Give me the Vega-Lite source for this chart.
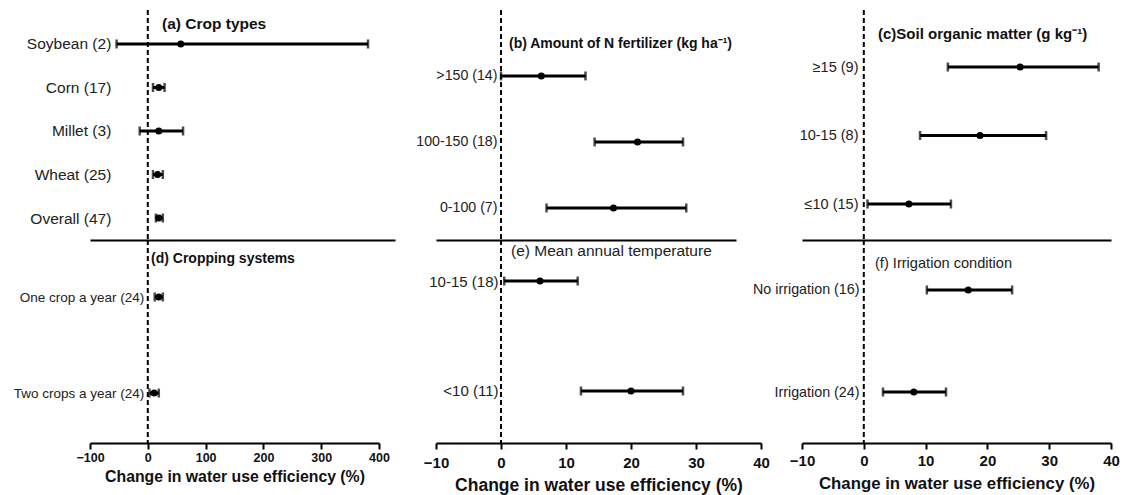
{
  "$schema": "https://vega.github.io/schema/vega-lite/v6.json",
  "background": "white",
  "padding": {"left": 13, "top": 9, "right": 5, "bottom": 2},
  "config": {"font": "Liberation Sans", "view": {"stroke": null}, "axis": {"grid": false}},
  "datasets": {
    "a": [
      {"label": "Soybean (2)", "mean": 57, "lo": -54, "hi": 381},
      {"label": "Corn (17)", "mean": 19, "lo": 9, "hi": 29},
      {"label": "Millet (3)", "mean": 19, "lo": -14, "hi": 61},
      {"label": "Wheat (25)", "mean": 17, "lo": 9, "hi": 26},
      {"label": "Overall (47)", "mean": 19, "lo": 14, "hi": 26}
    ],
    "d": [
      {"label": "One crop a year (24)", "mean": 19, "lo": 12, "hi": 26},
      {"label": "Two crops a year (24)", "mean": 11, "lo": 3, "hi": 19}
    ],
    "b": [
      {"label": ">150 (14)", "mean": 6.2, "lo": 0, "hi": 13},
      {"label": "100-150 (18)", "mean": 21, "lo": 14.4, "hi": 28},
      {"label": "0-100 (7)", "mean": 17.3, "lo": 7, "hi": 28.5}
    ],
    "e": [
      {"label": "10-15 (18)", "mean": 6, "lo": 0.5, "hi": 11.8},
      {"label": "<10 (11)", "mean": 20, "lo": 12.3, "hi": 28}
    ],
    "c": [
      {"label": "≥15 (9)", "mean": 25.3, "lo": 13.6, "hi": 38},
      {"label": "10-15 (8)", "mean": 18.8, "lo": 9.1, "hi": 29.5},
      {"label": "≤10 (15)", "mean": 7.3, "lo": 0.6, "hi": 14.1}
    ],
    "f": [
      {"label": "No irrigation (16)", "mean": 16.9, "lo": 10.2, "hi": 24},
      {"label": "Irrigation (24)", "mean": 8.1, "lo": 3.1, "hi": 13.3}
    ]
  },
  "bounds": "flush",
  "align": "each",
  "columns": 3,
  "spacing": {"row": 0, "column": 41},
  "concat": [
    {
      "width": 305, "height": 230,
      "title": {"text": "(a) Crop types", "anchor": "start", "frame": "group", "offset": -23, "dx": 72, "fontSize": 15.5, "fontWeight": "bold", "color": "#111"},
      "data": {"name": "a"},
      "layer": [
        {"data": {"values": [{}]}, "mark": {"type": "rule", "strokeDash": [5, 3], "strokeWidth": 2, "color": "black"}, "encoding": {"x": {"datum": 0, "type": "quantitative"}}},
        {"mark": {"type": "rule", "strokeWidth": 3, "color": "black"},
         "encoding": {
           "y": {"field": "label", "type": "nominal", "sort": null, "scale": {"type": "point", "padding": 0.643, "align": 0.607},
                 "axis": {"offset": -57.8, "domain": false, "ticks": false, "labelPadding": 37, "labelFontSize": 15.5, "labelColor": "#222", "labelLimit": 300, "title": null}},
           "x": {"field": "lo", "type": "quantitative", "scale": {"domain": [-100, 427.7], "nice": false, "zero": false},
                 "axis": {"domain": true, "domainColor": "black", "domainWidth": 2, "ticks": false, "labels": false, "title": null}},
           "x2": {"field": "hi"}}},
        {"mark": {"type": "tick", "thickness": 2.5, "size": 9, "color": "black"}, "encoding": {"y": {"field": "label", "type": "nominal", "sort": null}, "x": {"field": "lo", "type": "quantitative"}}},
        {"mark": {"type": "tick", "thickness": 2.5, "size": 9, "color": "black"}, "encoding": {"y": {"field": "label", "type": "nominal", "sort": null}, "x": {"field": "hi", "type": "quantitative"}}},
        {"mark": {"type": "circle", "size": 50, "opacity": 1, "color": "black"}, "encoding": {"y": {"field": "label", "type": "nominal", "sort": null}, "x": {"field": "mean", "type": "quantitative"}}}
      ]
    },
    {
      "width": 300, "height": 230,
      "title": {"text": "(b) Amount of N fertilizer (kg ha⁻¹)", "anchor": "start", "frame": "group", "offset": -42, "dx": 73, "fontSize": 14, "fontWeight": "bold", "color": "#111"},
      "data": {"name": "b"},
      "layer": [
        {"data": {"values": [{}]}, "mark": {"type": "rule", "strokeDash": [5, 3], "strokeWidth": 2, "color": "black"}, "encoding": {"x": {"datum": 0, "type": "quantitative"}}},
        {"mark": {"type": "rule", "strokeWidth": 3, "color": "black"},
         "encoding": {
           "y": {"field": "label", "type": "nominal", "sort": null, "scale": {"type": "point", "padding": 0.742, "align": 0.673},
                 "axis": {"offset": -65, "domain": false, "ticks": false, "labelPadding": 4, "labelFontSize": 14.2, "labelColor": "#222", "labelLimit": 300, "title": null}},
           "x": {"field": "lo", "type": "quantitative", "scale": {"domain": [-10, 36.15], "nice": false, "zero": false},
                 "axis": {"domain": true, "domainColor": "black", "domainWidth": 2, "ticks": false, "labels": false, "title": null}},
           "x2": {"field": "hi"}}},
        {"mark": {"type": "tick", "thickness": 2.5, "size": 9, "color": "black"}, "encoding": {"y": {"field": "label", "type": "nominal", "sort": null}, "x": {"field": "lo", "type": "quantitative"}}},
        {"mark": {"type": "tick", "thickness": 2.5, "size": 9, "color": "black"}, "encoding": {"y": {"field": "label", "type": "nominal", "sort": null}, "x": {"field": "hi", "type": "quantitative"}}},
        {"mark": {"type": "circle", "size": 50, "opacity": 1, "color": "black"}, "encoding": {"y": {"field": "label", "type": "nominal", "sort": null}, "x": {"field": "mean", "type": "quantitative"}}}
      ]
    },
    {
      "width": 309, "height": 230,
      "title": {"text": "(c)Soil organic matter (g kg⁻¹)", "anchor": "start", "frame": "group", "offset": -33, "dx": 76, "fontSize": 15, "fontWeight": "bold", "color": "#111"},
      "data": {"name": "c"},
      "layer": [
        {"data": {"values": [{}]}, "mark": {"type": "rule", "strokeDash": [5, 3], "strokeWidth": 2, "color": "black"}, "encoding": {"x": {"datum": 0, "type": "quantitative"}}},
        {"mark": {"type": "rule", "strokeWidth": 3, "color": "black"},
         "encoding": {
           "y": {"field": "label", "type": "nominal", "sort": null, "scale": {"type": "point", "padding": 0.679, "align": 0.613},
                 "axis": {"offset": -62, "domain": false, "ticks": false, "labelPadding": 6, "labelFontSize": 14.5, "labelColor": "#222", "labelLimit": 300, "title": null}},
           "x": {"field": "lo", "type": "quantitative", "scale": {"domain": [-10, 40], "nice": false, "zero": false},
                 "axis": {"domain": true, "domainColor": "black", "domainWidth": 2, "ticks": false, "labels": false, "title": null}},
           "x2": {"field": "hi"}}},
        {"mark": {"type": "tick", "thickness": 2.5, "size": 9, "color": "black"}, "encoding": {"y": {"field": "label", "type": "nominal", "sort": null}, "x": {"field": "lo", "type": "quantitative"}}},
        {"mark": {"type": "tick", "thickness": 2.5, "size": 9, "color": "black"}, "encoding": {"y": {"field": "label", "type": "nominal", "sort": null}, "x": {"field": "hi", "type": "quantitative"}}},
        {"mark": {"type": "circle", "size": 50, "opacity": 1, "color": "black"}, "encoding": {"y": {"field": "label", "type": "nominal", "sort": null}, "x": {"field": "mean", "type": "quantitative"}}}
      ]
    },
    {
      "width": 289, "height": 203,
      "title": {"text": "(d) Cropping systems", "anchor": "start", "frame": "group", "offset": -27, "dx": 61, "fontSize": 14, "fontWeight": "bold", "color": "#111"},
      "data": {"name": "d"},
      "layer": [
        {"data": {"values": [{}]}, "mark": {"type": "rule", "strokeDash": [5, 3], "strokeWidth": 2, "color": "black"}, "encoding": {"x": {"datum": 0, "type": "quantitative"}}},
        {"mark": {"type": "rule", "strokeWidth": 3, "color": "black"},
         "encoding": {
           "y": {"field": "label", "type": "nominal", "sort": null, "scale": {"type": "point", "padding": 0.557, "align": 0.533},
                 "axis": {"offset": -57.8, "domain": false, "ticks": false, "labelPadding": 4, "labelFontSize": 13.5, "labelColor": "#222", "labelLimit": 300, "title": null}},
           "x": {"field": "lo", "type": "quantitative", "scale": {"domain": [-100, 400], "nice": false, "zero": false},
                 "axis": {"values": [-100, 0, 100, 200, 300, 400], "domain": true, "domainColor": "black", "domainWidth": 2, "ticks": true, "tickColor": "black", "tickWidth": 2, "tickSize": 6, "labelFontSize": 12.5, "labelFontWeight": "bold", "labelColor": "#111", "labelPadding": 2, "labelFlush": false, "labelOverlap": false, "title": "Change in water use efficiency (%)", "titleFontSize": 15.8, "titleFontWeight": "bold", "titleColor": "#111", "titlePadding": 6}},
           "x2": {"field": "hi"}}},
        {"mark": {"type": "tick", "thickness": 2.5, "size": 9, "color": "black"}, "encoding": {"y": {"field": "label", "type": "nominal", "sort": null}, "x": {"field": "lo", "type": "quantitative"}}},
        {"mark": {"type": "tick", "thickness": 2.5, "size": 9, "color": "black"}, "encoding": {"y": {"field": "label", "type": "nominal", "sort": null}, "x": {"field": "hi", "type": "quantitative"}}},
        {"mark": {"type": "circle", "size": 50, "opacity": 1, "color": "black"}, "encoding": {"y": {"field": "label", "type": "nominal", "sort": null}, "x": {"field": "mean", "type": "quantitative"}}}
      ]
    },
    {
      "width": 325, "height": 203,
      "title": {"text": "(e) Mean annual temperature", "anchor": "start", "frame": "group", "offset": -20, "dx": 75, "fontSize": 15.5, "fontWeight": "normal", "color": "#222"},
      "data": {"name": "e"},
      "layer": [
        {"data": {"values": [{}]}, "mark": {"type": "rule", "strokeDash": [5, 3], "strokeWidth": 2, "color": "black"}, "encoding": {"x": {"datum": 0, "type": "quantitative"}}},
        {"mark": {"type": "rule", "strokeWidth": 3, "color": "black"},
         "encoding": {
           "y": {"field": "label", "type": "nominal", "sort": null, "scale": {"type": "point", "padding": 0.423, "align": 0.441},
                 "axis": {"offset": -65, "domain": false, "ticks": false, "labelPadding": 3, "labelFontSize": 15, "labelColor": "#222", "labelLimit": 300, "title": null}},
           "x": {"field": "lo", "type": "quantitative", "scale": {"domain": [-10, 40], "nice": false, "zero": false},
                 "axis": {"values": [-10, 0, 10, 20, 30, 40], "domain": true, "domainColor": "black", "domainWidth": 2, "ticks": true, "tickColor": "black", "tickWidth": 2, "tickSize": 6, "labelFontSize": 15, "labelFontWeight": "bold", "labelColor": "#111", "labelPadding": 6, "labelFlush": false, "labelOverlap": false, "title": "Change in water use efficiency (%)", "titleFontSize": 17.5, "titleFontWeight": "bold", "titleColor": "#111", "titlePadding": 6}},
           "x2": {"field": "hi"}}},
        {"mark": {"type": "tick", "thickness": 2.5, "size": 9, "color": "black"}, "encoding": {"y": {"field": "label", "type": "nominal", "sort": null}, "x": {"field": "lo", "type": "quantitative"}}},
        {"mark": {"type": "tick", "thickness": 2.5, "size": 9, "color": "black"}, "encoding": {"y": {"field": "label", "type": "nominal", "sort": null}, "x": {"field": "hi", "type": "quantitative"}}},
        {"mark": {"type": "circle", "size": 50, "opacity": 1, "color": "black"}, "encoding": {"y": {"field": "label", "type": "nominal", "sort": null}, "x": {"field": "mean", "type": "quantitative"}}}
      ]
    },
    {
      "width": 309, "height": 203,
      "title": {"text": "(f) Irrigation condition", "anchor": "start", "frame": "group", "offset": -32, "dx": 73, "fontSize": 14.6, "fontWeight": "normal", "color": "#222"},
      "data": {"name": "f"},
      "layer": [
        {"data": {"values": [{}]}, "mark": {"type": "rule", "strokeDash": [5, 3], "strokeWidth": 2, "color": "black"}, "encoding": {"x": {"datum": 0, "type": "quantitative"}}},
        {"mark": {"type": "rule", "strokeWidth": 3, "color": "black"},
         "encoding": {
           "y": {"field": "label", "type": "nominal", "sort": null, "scale": {"type": "point", "padding": 0.495, "align": 0.495},
                 "axis": {"offset": -62, "domain": false, "ticks": false, "labelPadding": 5, "labelFontSize": 14.3, "labelColor": "#222", "labelLimit": 300, "title": null}},
           "x": {"field": "lo", "type": "quantitative", "scale": {"domain": [-10, 40], "nice": false, "zero": false},
                 "axis": {"values": [-10, 0, 10, 20, 30, 40], "domain": true, "domainColor": "black", "domainWidth": 2, "ticks": true, "tickColor": "black", "tickWidth": 2, "tickSize": 6, "labelFontSize": 15, "labelFontWeight": "bold", "labelColor": "#111", "labelPadding": 4, "labelFlush": false, "labelOverlap": false, "title": "Change in water use efficiency (%)", "titleFontSize": 16.8, "titleFontWeight": "bold", "titleColor": "#111", "titlePadding": 7}},
           "x2": {"field": "hi"}}},
        {"mark": {"type": "tick", "thickness": 2.5, "size": 9, "color": "black"}, "encoding": {"y": {"field": "label", "type": "nominal", "sort": null}, "x": {"field": "lo", "type": "quantitative"}}},
        {"mark": {"type": "tick", "thickness": 2.5, "size": 9, "color": "black"}, "encoding": {"y": {"field": "label", "type": "nominal", "sort": null}, "x": {"field": "hi", "type": "quantitative"}}},
        {"mark": {"type": "circle", "size": 50, "opacity": 1, "color": "black"}, "encoding": {"y": {"field": "label", "type": "nominal", "sort": null}, "x": {"field": "mean", "type": "quantitative"}}}
      ]
    }
  ]
}
